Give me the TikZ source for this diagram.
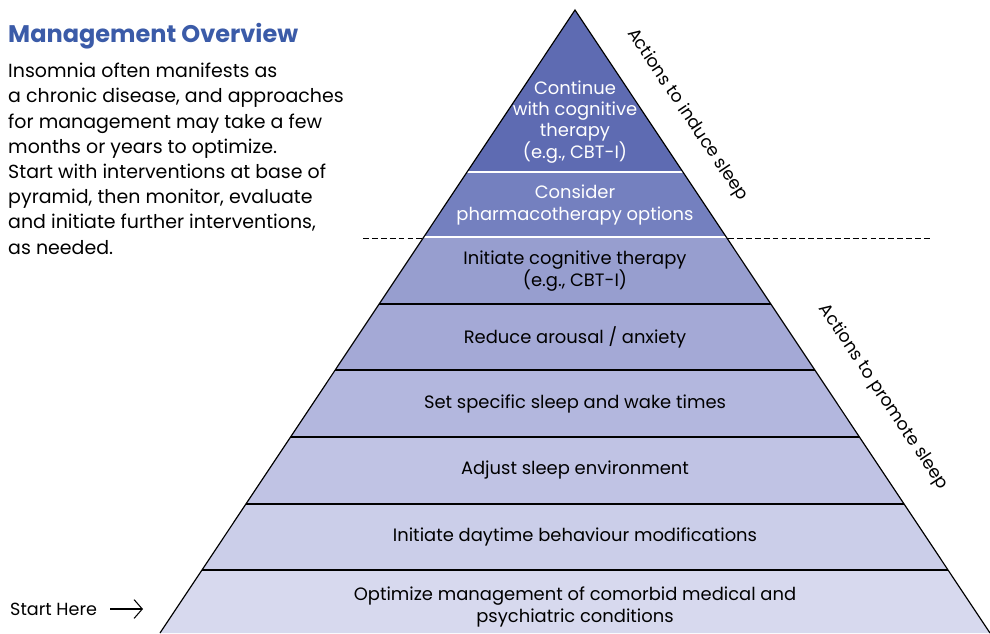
\documentclass[tikz,border=0pt]{standalone}
\usepackage{fontspec}
\setmainfont{Poppins}
\usetikzlibrary{arrows.meta}
\definecolor{titleblue}{HTML}{3B5BA8}
\definecolor{layA}{HTML}{5E6BB2}
\definecolor{layB}{HTML}{7480BF}
\definecolor{layC}{HTML}{979ECF}
\definecolor{layD}{HTML}{A4A9D6}
\definecolor{layE}{HTML}{B3B7DE}
\definecolor{layF}{HTML}{C0C3E4}
\definecolor{layG}{HTML}{CBCEE9}
\definecolor{layH}{HTML}{D7D9EE}
\tikzset{
  label text/.style={font=\fontsize{15.3}{18}\selectfont,align=center,inner sep=0pt},
  top text/.style={label text,text=white},
  side text/.style={font=\fontsize{14.9}{16}\selectfont,rotate=-56.3,inner sep=0pt},
}

\begin{document}
\begin{tikzpicture}
[x=0.03cm,y=-0.03cm]
\useasboundingbox (0,0) rectangle (990,633);
\coordinate (apex) at (575,10);
\coordinate (bl) at (160,633);
\coordinate (br) at (990,633);

% dashed split between the two groups
\coordinate (dashL) at (363,238);
\coordinate (dashR) at (932,238);
\draw[line width=0.85pt,dash pattern=on 5pt off 2.6pt] (dashL) -- (dashR);

% pyramid bands
\begin{scope}
\clip (apex) -- (bl) -- (br) -- cycle;
\foreach \ya/\yb/\col in {0/172/layA,172/237/layB,237/304/layC,304/370/layD,370/437/layE,437/504/layF,504/570/layG,570/640/layH}
	\fill[\col] (0,\ya) rectangle (990,\yb);
\foreach \y in {172,237}
	\draw[white,line width=1.3pt] (0,\y) -- (990,\y);
\foreach \y in {304,370,437,504,570}
	\draw[line width=1pt] (0,\y) -- (990,\y);
\end{scope}
\draw[line width=1pt] (bl) -- (apex) -- (br);

% band labels
\node[top text] (cont) at (575,122) {Continue\\with cognitive\\therapy\\(e.g., CBT-I)};
\node[top text] (cons) at (575,205) {Consider\\pharmacotherapy options};
\node[label text] (cbt) at (575,271) {Initiate cognitive therapy\\(e.g., CBT-I)};
\node[label text] (arou) at (575,337) {Reduce arousal / anxiety};
\node[label text] (times) at (575,404) {Set specific sleep and wake times};
\node[label text] (env) at (575,470) {Adjust sleep environment};
\node[label text] (day) at (575,537) {Initiate daytime behaviour modifications};
\node[label text] (comb) at (575,607) {Optimize management of comorbid medical and\\psychiatric conditions};

% side labels
\node[side text] (induce) at (687,115) {Actions to induce sleep};
\node[side text] (promote) at (883,397) {Actions to promote sleep};

% left text
\node[anchor=west,inner sep=0pt,text=titleblue,font=\fontsize{20.5}{23}\selectfont\bfseries] (title) at (8,36) {Management Overview};
\node[anchor=north west,inner sep=0pt,align=left,font=\fontsize{16.2}{21.5}\selectfont] (intro) at (8,63)
	{Insomnia often manifests as\\
	a chronic disease, and approaches\\
	for management may take a few\\
	months or years to optimize.\\
	Start with interventions at base of\\
	pyramid, then monitor, evaluate\\
	and initiate further interventions,\\
	as needed.};

% start marker
\node[anchor=west,inner sep=0pt,font=\fontsize{15}{17}\selectfont] (start) at (10,609) {Start Here};
\coordinate (startEnd) at (143,609);
\draw[line width=0.9pt,-{Straight Barb[length=7pt,width=16pt]}] ([xshift=11pt]start.east) -- (startEnd);
\end{tikzpicture}
\end{document}
